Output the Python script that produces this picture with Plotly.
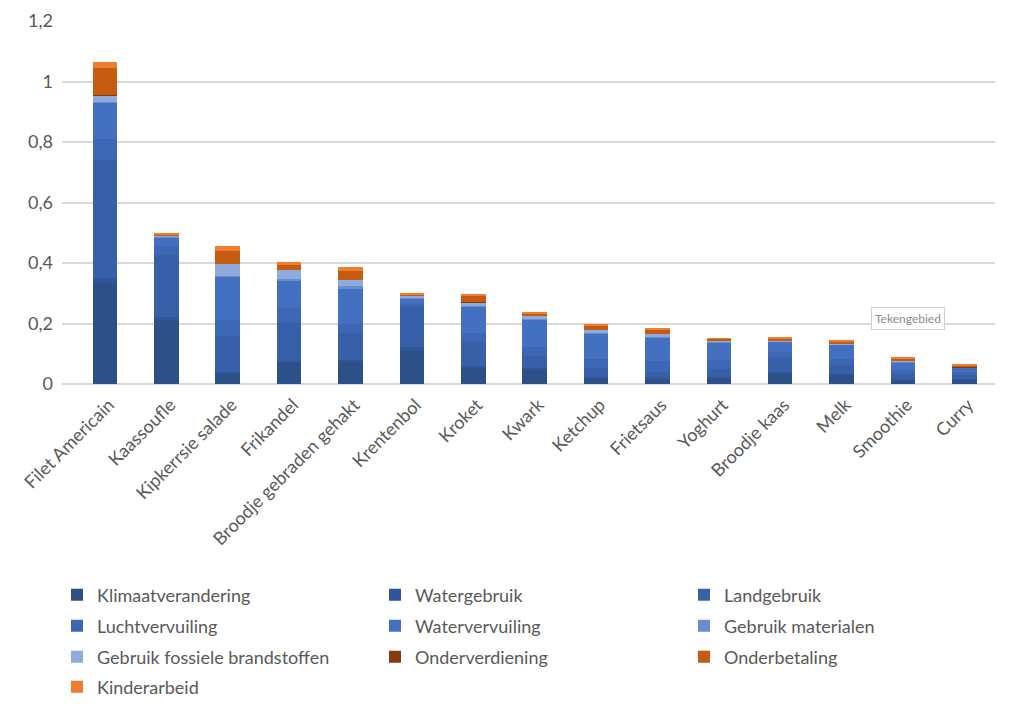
import plotly.graph_objects as go

categories = ["Filet Americain", "Kaassoufle", "Kipkerrsie salade", "Frikandel",
              "Broodje gebraden gehakt", "Krentenbol", "Kroket", "Kwark", "Ketchup",
              "Frietsaus", "Yoghurt", "Broodje kaas", "Melk", "Smoothie", "Curry"]

klimaatverandering = [0.334, 0.210, 0.037, 0.072, 0.076, 0.110, 0.055, 0.049, 0.018, 0.016, 0.019, 0.037, 0.030, 0.013, 0.014]
watergebruik       = [0.016, 0.010, 0.003, 0.005, 0.004, 0.013, 0.003, 0.004, 0.004, 0.003, 0.003, 0.004, 0.003, 0.003, 0.002]
landgebruik        = [0.390, 0.205, 0.120, 0.125, 0.090, 0.130, 0.082, 0.040, 0.032, 0.022, 0.027, 0.045, 0.030, 0.016, 0.013]
luchtvervuiling    = [0.070, 0.030, 0.050, 0.050, 0.028, 0.010, 0.030, 0.030, 0.030, 0.035, 0.030, 0.020, 0.020, 0.015, 0.010]
watervervuiling    = [0.120, 0.030, 0.145, 0.090, 0.115, 0.020, 0.085, 0.090, 0.083, 0.077, 0.058, 0.033, 0.046, 0.025, 0.014]
gebruik_materialen = [0.003, 0.003, 0.003, 0.005, 0.010, 0.003, 0.003, 0.003, 0.003, 0.003, 0.002, 0.002, 0.002, 0.001, 0.001]
fossiele_brandst   = [0.020, 0.003, 0.040, 0.030, 0.020, 0.006, 0.010, 0.008, 0.010, 0.010, 0.004, 0.004, 0.003, 0.002, 0.002]
onderverdiening    = [0.002, 0.000, 0.000, 0.000, 0.000, 0.000, 0.002, 0.000, 0.000, 0.000, 0.000, 0.000, 0.000, 0.000, 0.001]
onderbetaling      = [0.088, 0.004, 0.043, 0.017, 0.030, 0.005, 0.020, 0.008, 0.013, 0.013, 0.006, 0.004, 0.006, 0.008, 0.004]
kinderarbeid       = [0.023, 0.003, 0.015, 0.010, 0.013, 0.003, 0.007, 0.004, 0.005, 0.004, 0.002, 0.004, 0.003, 0.003, 0.002]

series_names = ["Klimaatverandering", "Watergebruik", "Landgebruik", "Luchtvervuiling",
                "Watervervuiling", "Gebruik materialen", "Gebruik fossiele brandstoffen",
                "Onderverdiening", "Onderbetaling", "Kinderarbeid"]
series_values = [klimaatverandering, watergebruik, landgebruik, luchtvervuiling,
                 watervervuiling, gebruik_materialen, fossiele_brandst,
                 onderverdiening, onderbetaling, kinderarbeid]
series_colors = ["#2E5089", "#30559A", "#3860A9", "#3D67B5", "#4470C1",
                 "#698ED0", "#8FAADC", "#843C0C", "#C55A11", "#ED7D31"]

# figure is drawn inside the page's 8px body margin
W, H = 1007, 715
ML, MR, MT, MB = 54, 20, 13, 339
font_family = "Lato, Carlito, 'Liberation Sans', sans-serif"
col_x = [49, 367, 676]        # legend left edges (figure px)
row_y = [587, 618, 649, 679]  # legend row centres (figure px)

fig = go.Figure()
layout_legends = {}
for i, (name, vals, color) in enumerate(zip(series_names, series_values, series_colors)):
    lg = "legend" if i == 0 else f"legend{i + 1}"
    fig.add_trace(go.Bar(x=categories, y=vals, name=name, marker_color=color,
                         marker_line_width=0, legend=lg, showlegend=True))
    layout_legends[lg] = dict(
        orientation="h", xref="container", yref="container", visible=True,
        x=col_x[i % 3] / W, xanchor="left", y=1 - row_y[i // 3] / H, yanchor="middle",
        itemwidth=30, font=dict(size=18, color="#595959", family=font_family),
        bgcolor="rgba(0,0,0,0)",
    )

plot_w = W - ML - MR
plot_h = H - MT - MB
fig.update_layout(
    width=W, height=H,
    showlegend=True,
    barmode="stack", bargap=0.6,
    plot_bgcolor="white", paper_bgcolor="white",
    separators=", ",
    margin=dict(l=ML, r=MR, t=MT, b=MB, autoexpand=False),
    font=dict(family=font_family, size=16, color="#595959"),
    xaxis=dict(tickangle=-45, showgrid=False, showline=False, ticks="", automargin=False,
               range=[-0.7, 14.5], ticklabelstandoff=6, ticklabelshift=4,
               tickfont=dict(size=18, color="#595959")),
    yaxis=dict(range=[0, 1.2], dtick=0.2, showgrid=True, gridcolor="#D9D9D9",
               gridwidth=1.5, zeroline=True, zerolinecolor="#D9D9D9", zerolinewidth=1.5,
               ticks="", ticklabelstandoff=8, automargin=False,
               tickfont=dict(size=18, color="#595959")),
    annotations=[dict(text="Tekengebied", x=(900 - ML) / plot_w, y=(376 - 310) / plot_h,
                      xref="paper", yref="paper", xanchor="center", yanchor="middle",
                      showarrow=False,
                      font=dict(size=12, color="#8C8C8C", family=font_family),
                      bgcolor="white", bordercolor="#D0D0D0", borderwidth=1, borderpad=3)],
    **layout_legends,
)

fig.write_html("out.html")
